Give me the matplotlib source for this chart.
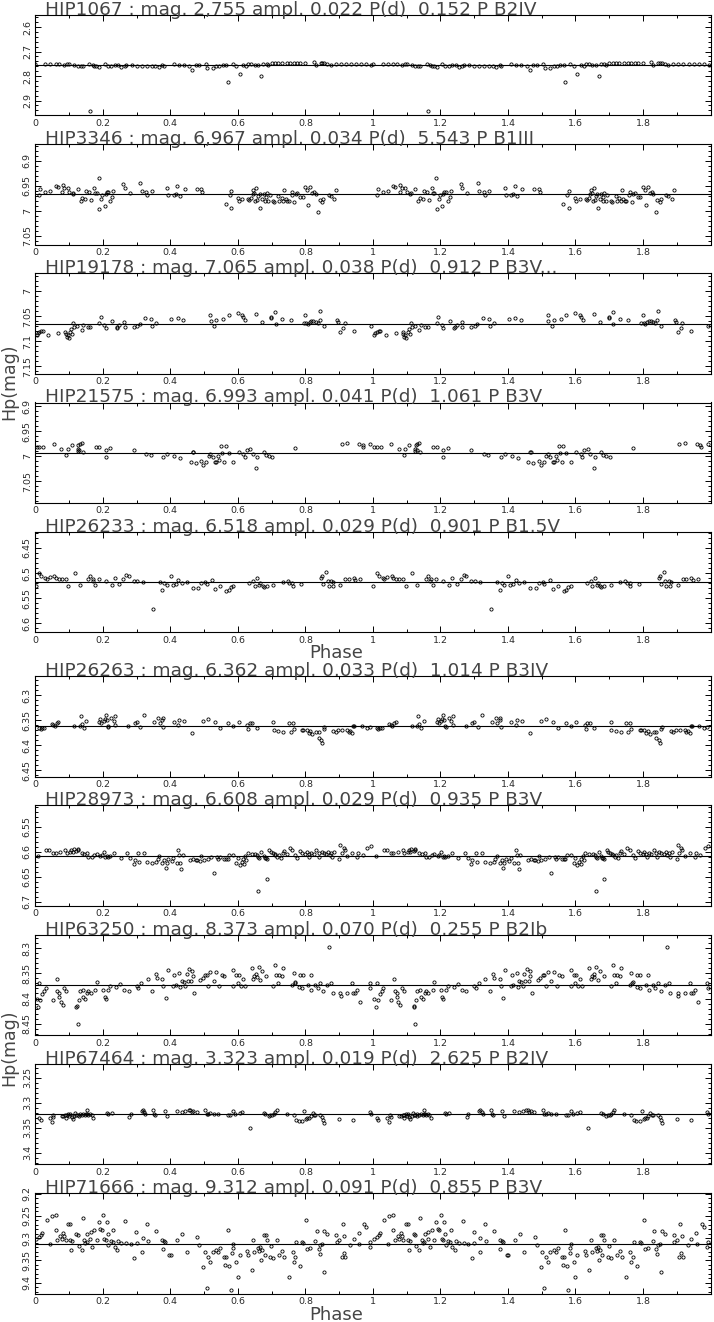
import numpy as np
import matplotlib
matplotlib.use('Agg')
import matplotlib.pyplot as plt
from matplotlib.ticker import MultipleLocator, FixedLocator, FuncFormatter

# ---- chart values (phase 0-1, Hp magnitude) ----
titles = [
    "HIP1067 : mag. 2,755 ampl. 0.022 P(d)  0.152 P B2IV",
    "HIP3346 : mag. 6,967 ampl. 0.034 P(d)  5.543 P B1III",
    "HIP19178 : mag. 7.065 ampl. 0.038 P(d)  0.912 P B3V...",
    "HIP21575 : mag. 6.993 ampl. 0.041 P(d)  1.061 P B3V",
    "HIP26233 : mag. 6.518 ampl. 0.029 P(d)  0.901 P B1.5V",
    "HIP26263 : mag. 6.362 ampl. 0.033 P(d)  1.014 P B3IV",
    "HIP28973 : mag. 6.608 ampl. 0.029 P(d)  0.935 P B3V",
    "HIP63250 : mag. 8.373 ampl. 0.070 P(d)  0.255 P B2Ib",
    "HIP67464 : mag. 3.323 ampl. 0.019 P(d)  2.625 P B2IV",
    "HIP71666 : mag. 9.312 ampl. 0.091 P(d)  0.855 P B3V",
]
mean_mag = [2.755, 6.967, 7.065, 6.993, 6.518, 6.362, 6.608, 8.373, 3.323, 9.312]
half_range = [0.205, 0.1, 0.1, 0.1, 0.1, 0.1, 0.1, 0.1, 0.1, 0.1125]
y_major = [0.1, 0.05, 0.05, 0.05, 0.05, 0.05, 0.05, 0.05, 0.05, 0.05]

phase_1067 = [0.00, 0.03, 0.045, 0.06, 0.07, 0.085, 0.095, 0.10, 0.115, 0.125, 0.135, 0.14, 0.16, 0.17,
              0.175, 0.18, 0.19, 0.205, 0.215, 0.225, 0.235, 0.245, 0.255, 0.265, 0.27, 0.285, 0.30, 0.315,
              0.33, 0.345, 0.355, 0.365, 0.375, 0.38, 0.41, 0.425, 0.44, 0.455, 0.465, 0.475, 0.485, 0.505,
              0.51, 0.525, 0.535, 0.545, 0.555, 0.565, 0.57, 0.585, 0.595, 0.605, 0.615, 0.625, 0.63, 0.64,
              0.65, 0.66, 0.67, 0.675, 0.685, 0.69, 0.70, 0.71, 0.72, 0.73, 0.745, 0.755, 0.765, 0.775,
              0.785, 0.80, 0.825, 0.83, 0.845, 0.85, 0.855, 0.865, 0.875, 0.89, 0.905, 0.92, 0.935, 0.95,
              0.965, 0.98, 0.995, 0.162]
mag_1067 = [2.752, 2.750, 2.751, 2.750, 2.749, 2.753, 2.752, 2.752, 2.754, 2.758, 2.757, 2.760, 2.752, 2.754,
            2.757, 2.760, 2.762, 2.752, 2.757, 2.760, 2.756, 2.755, 2.762, 2.758, 2.753, 2.755, 2.758, 2.757,
            2.758, 2.757, 2.760, 2.764, 2.756, 2.757, 2.752, 2.755, 2.756, 2.758, 2.774, 2.754, 2.756, 2.752,
            2.766, 2.768, 2.757, 2.759, 2.755, 2.753, 2.826, 2.752, 2.757, 2.791, 2.755, 2.760, 2.750, 2.751,
            2.755, 2.756, 2.800, 2.752, 2.749, 2.755, 2.748, 2.747, 2.746, 2.747, 2.748, 2.748, 2.747, 2.748,
            2.745, 2.747, 2.744, 2.755, 2.747, 2.746, 2.748, 2.750, 2.753, 2.752, 2.752, 2.752, 2.751, 2.752,
            2.750, 2.752, 2.753, 2.943]

phase_3346 = [0.012, 0.015, 0.030, 0.044, 0.061, 0.066, 0.081, 0.086, 0.079, 0.096, 0.101, 0.113, 0.111,
              0.125, 0.135, 0.139, 0.148, 0.150, 0.160, 0.165, 0.174, 0.177, 0.182, 0.188, 0.189, 0.195,
              0.199, 0.205, 0.208, 0.211, 0.216, 0.221, 0.228, 0.231, 0.261, 0.265, 0.280, 0.310, 0.315,
              0.329, 0.331, 0.345, 0.391, 0.394, 0.410, 0.416, 0.421, 0.428, 0.443, 0.478, 0.491, 0.495,
              0.564, 0.576, 0.580, 0.581, 0.599, 0.602, 0.612, 0.630, 0.634, 0.640, 0.644, 0.646, 0.649,
              0.651, 0.654, 0.657, 0.661, 0.665, 0.667, 0.672, 0.676, 0.681, 0.683, 0.686, 0.689, 0.694,
              0.704, 0.708, 0.720, 0.723, 0.730, 0.735, 0.737, 0.742, 0.746, 0.751, 0.759, 0.761, 0.767,
              0.771, 0.775, 0.784, 0.792, 0.800, 0.805, 0.808, 0.814, 0.820, 0.826, 0.831, 0.838, 0.842,
              0.849, 0.852, 0.869, 0.875, 0.886, 0.891]
mag_3346 = [6.969, 6.957, 6.962, 6.960, 6.950, 6.952, 6.948, 6.954, 6.962, 6.955, 6.963, 6.964, 6.966,
            6.956, 6.980, 6.974, 6.976, 6.960, 6.962, 6.978, 6.954, 6.964, 6.964, 6.934, 6.996, 6.977,
            6.968, 6.991, 6.967, 6.962, 6.962, 6.980, 6.972, 6.960, 6.947, 6.954, 6.965, 6.945, 6.961,
            6.963, 6.969, 6.960, 6.955, 6.968, 6.968, 6.966, 6.951, 6.970, 6.956, 6.956, 6.957, 6.962,
            6.986, 6.968, 6.960, 6.995, 6.974, 6.980, 6.976, 6.977, 6.979, 6.974, 6.966, 6.959, 6.964,
            6.980, 6.955, 6.979, 6.971, 6.967, 6.995, 6.977, 6.966, 6.980, 6.973, 6.965, 6.980, 6.968,
            6.980, 6.982, 6.971, 6.980, 6.974, 6.980, 6.959, 6.976, 6.980, 6.980, 6.968, 6.962, 6.982,
            6.966, 6.964, 6.972, 6.973, 6.953, 6.958, 6.988, 6.952, 6.964, 6.962, 6.966, 7.003, 6.979,
            6.982, 6.976, 6.968, 6.971, 6.976, 6.959]

phase_19178 = [0.004, 0.007, 0.012, 0.017, 0.022, 0.039, 0.068, 0.088, 0.090, 0.093, 0.096, 0.099, 0.103,
               0.106, 0.110, 0.113, 0.116, 0.124, 0.138, 0.142, 0.155, 0.162, 0.189, 0.194, 0.204, 0.208,
               0.227, 0.241, 0.243, 0.248, 0.264, 0.265, 0.292, 0.301, 0.309, 0.325, 0.343, 0.347, 0.359,
               0.403, 0.422, 0.438, 0.518, 0.520, 0.530, 0.536, 0.557, 0.573, 0.599, 0.613, 0.616, 0.621,
               0.654, 0.672, 0.698, 0.699, 0.710, 0.712, 0.731, 0.757, 0.795, 0.799, 0.803, 0.807, 0.813,
               0.818, 0.824, 0.830, 0.836, 0.842, 0.844, 0.854, 0.895, 0.898, 0.903, 0.912, 0.917, 0.943,
               0.994]
mag_19178 = [7.088, 7.083, 7.082, 7.080, 7.080, 7.088, 7.083, 7.082, 7.086, 7.092, 7.088, 7.093, 7.082,
             7.075, 7.085, 7.063, 7.072, 7.070, 7.078, 7.068, 7.072, 7.072, 7.064, 7.051, 7.068, 7.074,
             7.060, 7.074, 7.071, 7.068, 7.062, 7.072, 7.072, 7.069, 7.066, 7.053, 7.055, 7.070, 7.064,
             7.056, 7.054, 7.058, 7.048, 7.060, 7.069, 7.057, 7.056, 7.047, 7.044, 7.047, 7.051, 7.057,
             7.046, 7.061, 7.052, 7.054, 7.042, 7.066, 7.056, 7.057, 7.064, 7.047, 7.064, 7.065, 7.061,
             7.059, 7.060, 7.061, 7.064, 7.058, 7.039, 7.070, 7.058, 7.061, 7.082, 7.074, 7.063, 7.080,
             7.070]

phase_21575 = [0.004, 0.012, 0.024, 0.055, 0.076, 0.091, 0.096, 0.108, 0.125, 0.127, 0.132, 0.137, 0.125,
               0.130, 0.140, 0.179, 0.190, 0.208, 0.209, 0.221, 0.291, 0.328, 0.342, 0.379, 0.391, 0.411,
               0.429, 0.460, 0.466, 0.468, 0.475, 0.492, 0.498, 0.506, 0.514, 0.518, 0.526, 0.532, 0.536,
               0.542, 0.545, 0.551, 0.553, 0.559, 0.564, 0.573, 0.587, 0.603, 0.615, 0.620, 0.626, 0.636,
               0.644, 0.654, 0.658, 0.676, 0.682, 0.691, 0.701, 0.769, 0.908, 0.923, 0.960, 0.970, 0.972,
               0.992]
mag_21575 = [6.982, 6.982, 6.982, 6.976, 6.985, 6.998, 6.985, 6.978, 6.986, 6.978, 6.975, 6.974, 6.990,
             6.988, 6.992, 6.982, 6.982, 7.002, 6.988, 6.983, 6.988, 6.995, 6.998, 7.001, 6.996, 6.999,
             7.004, 7.011, 6.992, 6.991, 7.013, 7.009, 7.018, 7.012, 7.000, 6.996, 7.002, 7.011, 7.011,
             7.000, 7.008, 6.979, 6.994, 7.011, 6.980, 6.994, 7.011, 6.992, 6.995, 7.002, 6.988, 6.985,
             6.995, 7.023, 7.002, 6.992, 6.998, 7.000, 7.002, 6.983, 6.976, 6.973, 6.976, 6.978, 6.982,
             6.975]

phase_26233 = [0.001, 0.012, 0.017, 0.030, 0.034, 0.043, 0.056, 0.061, 0.069, 0.078, 0.090, 0.097, 0.117,
               0.132, 0.156, 0.162, 0.170, 0.178, 0.172, 0.188, 0.209, 0.226, 0.235, 0.249, 0.261, 0.269,
               0.277, 0.291, 0.302, 0.318, 0.350, 0.368, 0.375, 0.381, 0.389, 0.401, 0.407, 0.416, 0.424,
               0.434, 0.449, 0.466, 0.483, 0.491, 0.503, 0.508, 0.524, 0.533, 0.547, 0.565, 0.573, 0.579,
               0.587, 0.633, 0.646, 0.650, 0.658, 0.664, 0.667, 0.674, 0.677, 0.686, 0.705, 0.733, 0.748,
               0.752, 0.761, 0.763, 0.787, 0.847, 0.849, 0.852, 0.861, 0.866, 0.869, 0.876, 0.881, 0.883,
               0.903, 0.918, 0.928, 0.943, 0.948, 0.962]
mag_26233 = [6.525, 6.499, 6.506, 6.509, 6.512, 6.508, 6.505, 6.510, 6.512, 6.512, 6.512, 6.526, 6.499,
             6.523, 6.512, 6.506, 6.515, 6.524, 6.512, 6.512, 6.515, 6.524, 6.509, 6.521, 6.512, 6.503,
             6.506, 6.515, 6.516, 6.518, 6.572, 6.517, 6.533, 6.519, 6.524, 6.505, 6.524, 6.522, 6.513,
             6.520, 6.517, 6.530, 6.529, 6.519, 6.517, 6.521, 6.513, 6.532, 6.526, 6.535, 6.533, 6.528,
             6.525, 6.519, 6.515, 6.526, 6.509, 6.523, 6.520, 6.526, 6.528, 6.525, 6.523, 6.517, 6.515,
             6.519, 6.520, 6.526, 6.521, 6.510, 6.506, 6.521, 6.497, 6.515, 6.525, 6.515, 6.526, 6.517,
             6.524, 6.512, 6.512, 6.509, 6.513, 6.512]

phase_26263 = [0.011, 0.016, 0.021, 0.027, 0.048, 0.053, 0.058, 0.063, 0.067, 0.115, 0.132, 0.135, 0.137,
               0.143, 0.150, 0.189, 0.192, 0.195, 0.203, 0.205, 0.208, 0.211, 0.214, 0.216, 0.224, 0.232,
               0.236, 0.236, 0.276, 0.295, 0.300, 0.310, 0.322, 0.352, 0.364, 0.368, 0.375, 0.377, 0.379,
               0.410, 0.424, 0.427, 0.441, 0.465, 0.498, 0.512, 0.533, 0.547, 0.572, 0.587, 0.602, 0.628,
               0.631, 0.635, 0.643, 0.656, 0.704, 0.706, 0.720, 0.735, 0.750, 0.757, 0.763, 0.765, 0.791,
               0.794, 0.804, 0.810, 0.814, 0.821, 0.832, 0.839, 0.840, 0.847, 0.850, 0.854, 0.856, 0.883,
               0.890, 0.898, 0.909, 0.923, 0.928, 0.933, 0.938, 0.941, 0.945, 0.967, 0.982, 0.990]
mag_26263 = [6.366, 6.367, 6.366, 6.365, 6.358, 6.360, 6.362, 6.356, 6.354, 6.362, 6.362, 6.341, 6.358,
             6.365, 6.351, 6.354, 6.348, 6.356, 6.352, 6.347, 6.340, 6.349, 6.362, 6.363, 6.345, 6.352,
             6.341, 6.360, 6.361, 6.356, 6.353, 6.363, 6.340, 6.354, 6.345, 6.356, 6.350, 6.346, 6.364,
             6.354, 6.359, 6.349, 6.352, 6.375, 6.351, 6.347, 6.354, 6.365, 6.355, 6.361, 6.354, 6.359,
             6.368, 6.356, 6.356, 6.366, 6.353, 6.370, 6.372, 6.374, 6.356, 6.374, 6.356, 6.368, 6.369,
             6.370, 6.370, 6.375, 6.372, 6.377, 6.374, 6.374, 6.385, 6.390, 6.395, 6.368, 6.363, 6.372,
             6.373, 6.370, 6.370, 6.370, 6.374, 6.372, 6.376, 6.362, 6.361, 6.362, 6.365, 6.363]

phase_28973 = [0.009, 0.032, 0.042, 0.053, 0.061, 0.073, 0.089, 0.093, 0.103, 0.106, 0.111, 0.114, 0.121,
               0.125, 0.126, 0.137, 0.144, 0.154, 0.157, 0.167, 0.175, 0.182, 0.192, 0.197, 0.203, 0.207,
               0.211, 0.214, 0.221, 0.234, 0.253, 0.273, 0.281, 0.291, 0.295, 0.305, 0.308, 0.322, 0.332,
               0.346, 0.358, 0.363, 0.367, 0.375, 0.381, 0.386, 0.389, 0.394, 0.404, 0.409, 0.419, 0.423,
               0.426, 0.429, 0.432, 0.437, 0.458, 0.468, 0.476, 0.480, 0.488, 0.491, 0.499, 0.511, 0.521,
               0.528, 0.538, 0.542, 0.547, 0.559, 0.565, 0.570, 0.574, 0.587, 0.595, 0.600, 0.605, 0.611,
               0.615, 0.617, 0.621, 0.624, 0.629, 0.641, 0.652, 0.657, 0.661, 0.664, 0.669, 0.676, 0.679,
               0.682, 0.686, 0.693, 0.697, 0.703, 0.709, 0.711, 0.717, 0.721, 0.727, 0.733, 0.736, 0.745,
               0.753, 0.761, 0.769, 0.775, 0.785, 0.791, 0.799, 0.804, 0.810, 0.812, 0.818, 0.825, 0.832,
               0.839, 0.841, 0.848, 0.854, 0.861, 0.867, 0.872, 0.876, 0.880, 0.886, 0.900, 0.903, 0.908,
               0.913, 0.916, 0.923, 0.938, 0.953, 0.957, 0.970, 0.984, 0.994, 0.661, 0.686]
mag_28973 = [6.609, 6.597, 6.596, 6.602, 6.603, 6.601, 6.597, 6.603, 6.600, 6.597, 6.601, 6.595, 6.599,
             6.594, 6.597, 6.603, 6.605, 6.603, 6.610, 6.610, 6.607, 6.605, 6.609, 6.607, 6.600, 6.611,
             6.609, 6.610, 6.609, 6.603, 6.613, 6.603, 6.613, 6.624, 6.617, 6.603, 6.620, 6.602, 6.620,
             6.623, 6.620, 6.615, 6.609, 6.623, 6.617, 6.633, 6.623, 6.615, 6.619, 6.613, 6.622, 6.596,
             6.607, 6.622, 6.635, 6.607, 6.617, 6.615, 6.617, 6.617, 6.619, 6.609, 6.617, 6.614, 6.610,
             6.643, 6.610, 6.614, 6.610, 6.614, 6.615, 6.614, 6.607, 6.606, 6.623, 6.613, 6.626, 6.620,
             6.615, 6.625, 6.608, 6.617, 6.603, 6.605, 6.604, 6.607, 6.610, 6.613, 6.601, 6.609, 6.613,
             6.612, 6.615, 6.597, 6.600, 6.602, 6.605, 6.607, 6.610, 6.607, 6.613, 6.603, 6.599, 6.605,
             6.592, 6.596, 6.607, 6.613, 6.599, 6.602, 6.605, 6.600, 6.605, 6.611, 6.603, 6.605, 6.596,
             6.602, 6.610, 6.600, 6.603, 6.605, 6.600, 6.607, 6.602, 6.610, 6.600, 6.615, 6.586, 6.602,
             6.592, 6.596, 6.609, 6.603, 6.611, 6.602, 6.607, 6.592, 6.588, 6.678, 6.655]

phase_63250 = [0.004, 0.009, 0.012, 0.014, 0.021, 0.027, 0.031, 0.053, 0.063, 0.065, 0.070, 0.071, 0.075,
               0.081, 0.086, 0.091, 0.121, 0.123, 0.125, 0.128, 0.132, 0.140, 0.142, 0.147, 0.154, 0.157,
               0.164, 0.177, 0.182, 0.202, 0.205, 0.209, 0.216, 0.221, 0.239, 0.251, 0.263, 0.277, 0.300,
               0.305, 0.314, 0.333, 0.347, 0.357, 0.360, 0.375, 0.379, 0.386, 0.392, 0.409, 0.412, 0.416,
               0.427, 0.429, 0.434, 0.439, 0.444, 0.449, 0.452, 0.456, 0.462, 0.464, 0.466, 0.470, 0.489,
               0.496, 0.503, 0.508, 0.513, 0.518, 0.528, 0.536, 0.545, 0.552, 0.559, 0.587, 0.587, 0.595,
               0.599, 0.603, 0.609, 0.614, 0.620, 0.641, 0.646, 0.649, 0.654, 0.656, 0.662, 0.666, 0.672,
               0.684, 0.704, 0.711, 0.713, 0.719, 0.723, 0.731, 0.735, 0.761, 0.765, 0.768, 0.770, 0.782,
               0.783, 0.791, 0.792, 0.809, 0.816, 0.817, 0.829, 0.837, 0.844, 0.852, 0.864, 0.871, 0.876,
               0.881, 0.903, 0.905, 0.923, 0.939, 0.941, 0.947, 0.953, 0.962, 0.990, 0.992]
mag_63250 = [8.400, 8.416, 8.370, 8.403, 8.391, 8.386, 8.380, 8.403, 8.362, 8.385, 8.390, 8.396, 8.406,
             8.413, 8.380, 8.386, 8.416, 8.415, 8.450, 8.403, 8.386, 8.383, 8.396, 8.400, 8.390, 8.386,
             8.390, 8.383, 8.368, 8.383, 8.396, 8.400, 8.384, 8.375, 8.378, 8.372, 8.383, 8.386, 8.375,
             8.380, 8.370, 8.362, 8.385, 8.351, 8.360, 8.362, 8.376, 8.398, 8.343, 8.376, 8.353, 8.373,
             8.350, 8.378, 8.365, 8.368, 8.375, 8.352, 8.365, 8.341, 8.366, 8.346, 8.356, 8.390, 8.364,
             8.360, 8.353, 8.353, 8.375, 8.348, 8.366, 8.348, 8.376, 8.353, 8.355, 8.343, 8.376, 8.353,
             8.370, 8.353, 8.375, 8.362, 8.376, 8.340, 8.362, 8.355, 8.351, 8.358, 8.338, 8.363, 8.346,
             8.355, 8.375, 8.333, 8.353, 8.370, 8.353, 8.355, 8.340, 8.374, 8.350, 8.370, 8.368, 8.378,
             8.354, 8.380, 8.353, 8.373, 8.353, 8.383, 8.373, 8.380, 8.370, 8.386, 8.373, 8.298, 8.370,
             8.390, 8.390, 8.395, 8.390, 8.370, 8.390, 8.390, 8.384, 8.406, 8.370, 8.380]

phase_67464 = [0.012, 0.016, 0.043, 0.048, 0.051, 0.053, 0.078, 0.083, 0.088, 0.091, 0.093, 0.098, 0.101,
               0.103, 0.108, 0.111, 0.115, 0.118, 0.121, 0.125, 0.130, 0.132, 0.137, 0.142, 0.147, 0.150,
               0.152, 0.154, 0.157, 0.162, 0.167, 0.172, 0.213, 0.216, 0.226, 0.279, 0.283, 0.315, 0.318,
               0.322, 0.325, 0.350, 0.353, 0.356, 0.383, 0.389, 0.419, 0.434, 0.444, 0.454, 0.458, 0.463,
               0.468, 0.478, 0.503, 0.508, 0.513, 0.518, 0.528, 0.542, 0.572, 0.577, 0.587, 0.592, 0.605,
               0.612, 0.636, 0.676, 0.681, 0.691, 0.696, 0.701, 0.706, 0.710, 0.715, 0.745, 0.765, 0.773,
               0.780, 0.790, 0.796, 0.802, 0.806, 0.811, 0.816, 0.822, 0.826, 0.829, 0.844, 0.849, 0.852,
               0.856, 0.901, 0.941, 0.990, 0.994]
mag_67464 = [3.330, 3.334, 3.330, 3.338, 3.325, 3.328, 3.326, 3.327, 3.325, 3.330, 3.324, 3.323, 3.327,
             3.322, 3.328, 3.332, 3.327, 3.320, 3.325, 3.325, 3.326, 3.322, 3.324, 3.323, 3.325, 3.322,
             3.315, 3.323, 3.325, 3.322, 3.325, 3.330, 3.320, 3.322, 3.320, 3.328, 3.323, 3.316, 3.314,
             3.319, 3.322, 3.315, 3.322, 3.325, 3.316, 3.327, 3.317, 3.318, 3.316, 3.315, 3.314, 3.318,
             3.316, 3.318, 3.315, 3.322, 3.323, 3.320, 3.323, 3.323, 3.325, 3.325, 3.316, 3.323, 3.320,
             3.319, 3.350, 3.320, 3.323, 3.327, 3.324, 3.325, 3.323, 3.318, 3.315, 3.322, 3.325, 3.334,
             3.336, 3.337, 3.316, 3.332, 3.331, 3.330, 3.327, 3.320, 3.324, 3.324, 3.325, 3.328, 3.334,
             3.340, 3.332, 3.334, 3.319, 3.322]

phase_71666 = [0.002, 0.012, 0.017, 0.021, 0.034, 0.045, 0.048, 0.061, 0.061, 0.065, 0.073, 0.078, 0.083,
               0.086, 0.090, 0.098, 0.103, 0.103, 0.107, 0.109, 0.121, 0.125, 0.128, 0.137, 0.140, 0.144,
               0.147, 0.152, 0.154, 0.163, 0.164, 0.168, 0.174, 0.182, 0.188, 0.192, 0.197, 0.201, 0.204,
               0.209, 0.211, 0.214, 0.216, 0.223, 0.229, 0.231, 0.235, 0.243, 0.246, 0.254, 0.266, 0.269,
               0.283, 0.293, 0.298, 0.300, 0.317, 0.318, 0.332, 0.335, 0.358, 0.375, 0.377, 0.381, 0.385,
               0.397, 0.401, 0.420, 0.436, 0.449, 0.480, 0.486, 0.497, 0.502, 0.508, 0.512, 0.518, 0.526,
               0.536, 0.541, 0.547, 0.559, 0.562, 0.565, 0.570, 0.574, 0.579, 0.584, 0.585, 0.587, 0.595,
               0.600, 0.605, 0.628, 0.631, 0.641, 0.646, 0.649, 0.661, 0.664, 0.666, 0.669, 0.672, 0.676,
               0.679, 0.682, 0.686, 0.696, 0.698, 0.704, 0.715, 0.723, 0.731, 0.737, 0.750, 0.763, 0.765,
               0.770, 0.773, 0.783, 0.790, 0.794, 0.802, 0.806, 0.814, 0.829, 0.834, 0.839, 0.842, 0.844,
               0.849, 0.854, 0.856, 0.864, 0.891, 0.893, 0.901, 0.907, 0.911, 0.913, 0.915, 0.918, 0.933,
               0.943, 0.958, 0.960, 0.974, 0.980, 0.990, 0.992]
mag_71666 = [9.301, 9.297, 9.292, 9.288, 9.259, 9.312, 9.251, 9.249, 9.281, 9.303, 9.296, 9.301, 9.288,
             9.296, 9.303, 9.269, 9.267, 9.305, 9.327, 9.307, 9.290, 9.292, 9.318, 9.327, 9.254, 9.303,
             9.311, 9.308, 9.290, 9.301, 9.286, 9.319, 9.281, 9.303, 9.264, 9.279, 9.282, 9.249, 9.301,
             9.305, 9.264, 9.290, 9.316, 9.306, 9.308, 9.281, 9.319, 9.327, 9.306, 9.311, 9.262, 9.311,
             9.312, 9.344, 9.286, 9.311, 9.331, 9.299, 9.267, 9.307, 9.284, 9.305, 9.325, 9.307, 9.308,
             9.338, 9.338, 9.305, 9.290, 9.331, 9.297, 9.316, 9.365, 9.331, 9.412, 9.343, 9.354, 9.331,
             9.327, 9.331, 9.323, 9.343, 9.360, 9.342, 9.282, 9.362, 9.417, 9.334, 9.323, 9.313, 9.353,
             9.387, 9.338, 9.328, 9.338, 9.371, 9.303, 9.331, 9.321, 9.328, 9.319, 9.348, 9.327, 9.293,
             9.338, 9.293, 9.303, 9.343, 9.318, 9.345, 9.303, 9.338, 9.329, 9.342, 9.387, 9.331, 9.353,
             9.343, 9.308, 9.362, 9.308, 9.311, 9.259, 9.325, 9.323, 9.307, 9.284, 9.325, 9.336, 9.316,
             9.312, 9.375, 9.284, 9.290, 9.293, 9.308, 9.303, 9.342, 9.269, 9.333, 9.296, 9.342, 9.316,
             9.301, 9.288, 9.312, 9.267, 9.275, 9.319, 9.308]

phases = [phase_1067, phase_3346, phase_19178, phase_21575, phase_26233,
          phase_26263, phase_28973, phase_63250, phase_67464, phase_71666]
mags = [mag_1067, mag_3346, mag_19178, mag_21575, mag_26233,
        mag_26263, mag_28973, mag_63250, mag_67464, mag_71666]

# ---- layout (pixels of a 714x1322 canvas) ----
W, H = 714, 1322
fig = plt.figure(figsize=(W / 100, H / 100), dpi=100)
fig.patch.set_facecolor('white')

left_px, width_px, height_px = 35.3, 675.2, 100.5
tops_px = [14.7, 144.0, 273.2, 402.5, 531.7, 676.0, 805.3, 934.6, 1063.9, 1193.2]

txt_col = '#454545'


def ylab(v, pos):
    return ('%.3f' % v).rstrip('0').rstrip('.')


def xlab(v, pos):
    return ('%.1f' % v).rstrip('0').rstrip('.')


for i in range(10):
    top = tops_px[i]
    ax = fig.add_axes([left_px / W, 1 - (top + height_px) / H, width_px / W, height_px / H])
    ph = np.array(phases[i])
    mg = np.array(mags[i])
    x = np.concatenate([ph, ph + 1.0])
    y = np.concatenate([mg, mg])
    ax.plot(x, y, 'o', ms=2.3, mfc='none', mec='black', mew=0.6, clip_on=True)
    ax.axhline(mean_mag[i], color='black', lw=0.8)

    ax.set_xlim(0, 2)
    ax.set_ylim(mean_mag[i] + half_range[i], mean_mag[i] - half_range[i] - 0.0005)

    ax.xaxis.set_major_locator(FixedLocator(np.arange(0, 1.81, 0.2)))
    ax.xaxis.set_minor_locator(FixedLocator(np.arange(0.1, 2.0, 0.2)))
    ax.xaxis.set_major_formatter(FuncFormatter(xlab))
    ax.yaxis.set_major_locator(MultipleLocator(y_major[i]))
    ax.yaxis.set_minor_locator(MultipleLocator(y_major[i] / 5))
    ax.yaxis.set_major_formatter(FuncFormatter(ylab))

    ax.tick_params(which='both', direction='in', top=True, right=True, width=0.7, color='black')
    ax.tick_params(which='major', length=4.5, labelsize=6.8, labelcolor='#2a2a2a', pad=2.5)
    ax.tick_params(which='minor', length=2.5)
    for lbl in ax.get_yticklabels():
        lbl.set_rotation(90)
        lbl.set_va('center')
    for sp in ax.spines.values():
        sp.set_linewidth(0.8)

    ax.text(0.0148, 1.0, titles[i], transform=ax.transAxes, ha='left', va='baseline',
            fontsize=13.3, color=txt_col)

# axis labels
fig.text(336 / W, 1 - 653 / H, 'Phase', ha='center', va='center', fontsize=13, color=txt_col)
fig.text(336 / W, 1 - 1315 / H, 'Phase', ha='center', va='center', fontsize=13, color=txt_col)
fig.text(9 / W, 1 - 382 / H, 'Hp(mag)', ha='center', va='center', rotation=90,
         fontsize=12.5, color=txt_col)
fig.text(9 / W, 1 - 1048 / H, 'Hp(mag)', ha='center', va='center', rotation=90,
         fontsize=12.5, color=txt_col)

fig.savefig('out.png', dpi=100)
